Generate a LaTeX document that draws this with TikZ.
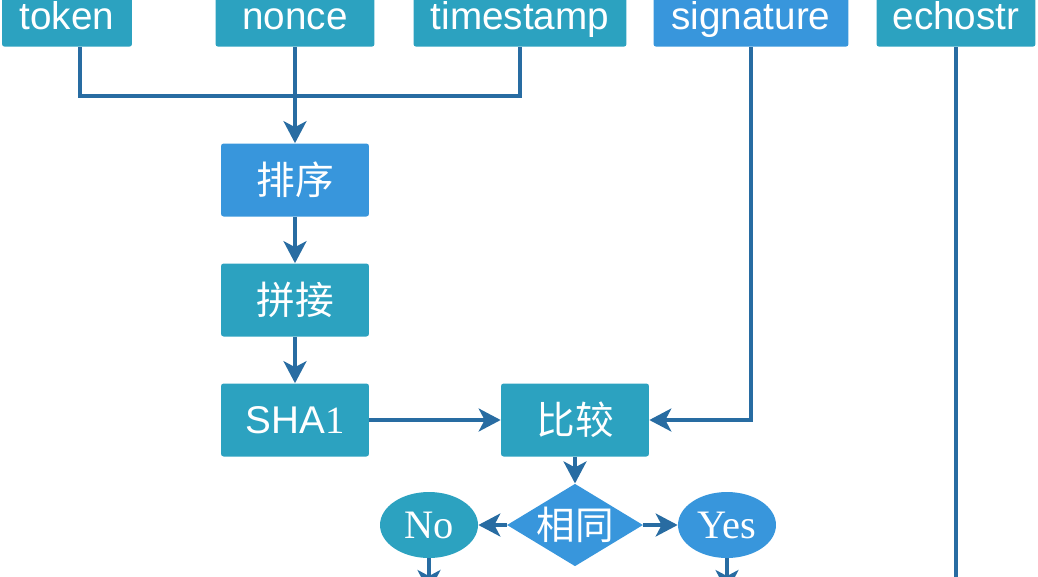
\documentclass[tikz,border=0pt]{standalone}
\usepackage{fontspec}
\setmainfont{Liberation Sans}
\newfontfamily\cjk{Noto Sans CJK SC}
\newfontfamily\serifnum{Liberation Serif}
\usepackage{tikz}
\usetikzlibrary{shapes.geometric, arrows.meta, positioning}
\definecolor{BoxTeal}{RGB}{44, 162, 192}
\definecolor{BoxBlue}{RGB}{56, 150, 220}
\definecolor{LineBlue}{RGB}{40, 108, 162}
\tikzset{
  keybox/.style={rectangle, rounded corners=1.5pt, minimum height=1.24cm,
    inner sep=0pt, anchor=south, text=white, text height=0.6cm,
    text depth=0.04cm, font=\fontsize{22}{24}\selectfont},
  stepbox/.style={rectangle, rounded corners=1.5pt, minimum width=2.96cm,
    minimum height=1.46cm, inner sep=0pt, fill=BoxTeal, text=white,
    font=\fontsize{22}{24}\selectfont\cjk},
  decbox/.style={diamond, aspect=1.65, minimum width=2.64cm,
    minimum height=1.6cm, inner sep=0pt, fill=BoxBlue, text=white,
    font=\fontsize{22}{24}\selectfont\cjk},
  endbox/.style={ellipse, minimum width=1.96cm, minimum height=1.32cm,
    inner sep=0pt, text=white, font=\fontsize{23}{24}\selectfont\serifnum},
  link/.style={line width=1.9pt, color=LineBlue},
  arr/.style={link, -{Stealth[length=4.4mm, width=4.6mm, inset=1.2mm]}},
}
\begin{document}
\begin{tikzpicture}[x=0.02cm, y=-0.02cm]
  \useasboundingbox (0,0) rectangle (1038,576);
  \clip (0,0) rectangle (1038,576);
  % parameters
  \node[keybox, fill=BoxTeal, minimum width=2.6cm]  (token) at (67,47)  {token};
  \node[keybox, fill=BoxTeal, minimum width=3.18cm] (nonce) at (295,47) {nonce};
  \node[keybox, fill=BoxTeal, minimum width=4.26cm] (ts)    at (520,47) {timestamp};
  \node[keybox, fill=BoxBlue, minimum width=3.9cm]  (sig)   at (751,47) {signature};
  \node[keybox, fill=BoxTeal, minimum width=3.18cm] (echo)  at (956,47) {echostr};
  % steps
  \node[stepbox, fill=BoxBlue] (sort)   at (295,180) {排序};
  \node[stepbox]               (concat) at (295,300) {拼接};
  \node[stepbox, font=\fontsize{22}{24}\selectfont] (sha) at (295,420) {SHA{\serifnum 1}};
  \node[stepbox]               (cmp)    at (575,420) {比较};
  \node[decbox]                (same)   at (575,525) {相同};
  \node[endbox, fill=BoxTeal]  (no)     at (429,525) {No};
  \node[endbox, fill=BoxBlue]  (yes)    at (727,525) {Yes};
  \coordinate (join) at (295,96);
  \coordinate (noend) at (429,592);
  \coordinate (yesend) at (727,592);
  \coordinate (echoend) at (956,600);
  % connectors
  \draw[link] ([xshift=0.26cm]token.south) |- (join);
  \draw[link] (ts.south) |- (join);
  \draw[arr] (nonce.south) -- (sort.north);
  \draw[arr] (sort) -- (concat);
  \draw[arr] (concat) -- (sha);
  \draw[arr] (sha) -- (cmp);
  \draw[arr] (sig.south) |- (cmp.east);
  \draw[link] (echo.south) -- (echoend);
  \draw[arr] (cmp) -- (same);
  \draw[arr] (same) -- (no);
  \draw[arr] (same) -- (yes);
  \draw[arr] (no) -- (noend);
  \draw[arr] (yes) -- (yesend);
\end{tikzpicture}
\end{document}
